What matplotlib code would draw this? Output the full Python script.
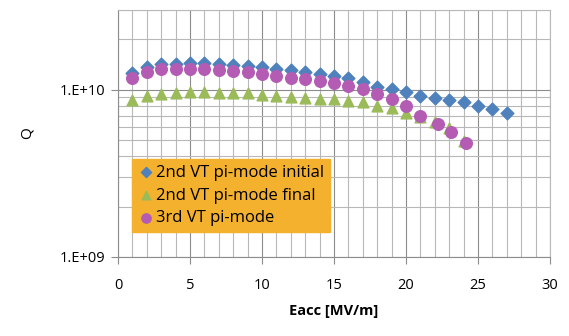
import numpy as np
import matplotlib
matplotlib.use("Agg")
import matplotlib.pyplot as plt
from matplotlib.ticker import LogLocator, MultipleLocator, NullFormatter

plt.rcParams['font.family'] = ['Open Sans', 'DejaVu Sans']

# 2nd VT pi-mode initial
eacc_init = [1, 2, 3, 4, 5, 6, 7, 8, 9, 10, 11, 12, 13, 14, 15, 16, 17, 18, 19, 20,
             21, 22, 23, 24, 25, 26, 27]
q_init = [1.26e10, 1.37e10, 1.43e10, 1.43e10, 1.45e10, 1.45e10, 1.43e10, 1.41e10, 1.39e10,
          1.37e10, 1.34e10, 1.32e10, 1.28e10, 1.25e10, 1.21e10, 1.18e10, 1.12e10, 1.04e10,
          1.01e10, 9.7e9, 9.2e9, 8.95e9, 8.7e9, 8.4e9, 8.0e9, 7.7e9, 7.3e9]

# 2nd VT pi-mode final
eacc_final = [1, 2, 3, 4, 5, 6, 7, 8, 9, 10, 11, 12, 13, 14, 15, 16, 17, 18, 19, 20,
              21, 22, 23, 24]
q_final = [8.7e9, 9.2e9, 9.45e9, 9.6e9, 9.7e9, 9.7e9, 9.6e9, 9.6e9, 9.6e9, 9.3e9, 9.2e9,
           9.1e9, 8.95e9, 8.8e9, 8.8e9, 8.6e9, 8.4e9, 8.0e9, 7.8e9, 7.3e9, 6.9e9, 6.4e9,
           5.9e9, 4.95e9]

# 3rd VT pi-mode
eacc_3rd = [1, 2, 3, 4, 5, 6, 7, 8, 9, 10, 11, 12, 13, 14, 15, 16, 17, 18, 19, 20,
            21, 22.2, 23.1, 24.2]
q_3rd = [1.18e10, 1.28e10, 1.34e10, 1.34e10, 1.34e10, 1.34e10, 1.32e10, 1.30e10, 1.28e10,
         1.25e10, 1.21e10, 1.18e10, 1.16e10, 1.13e10, 1.10e10, 1.06e10, 1.01e10, 9.45e9,
         8.8e9, 8.0e9, 7.0e9, 6.2e9, 5.6e9, 4.8e9]

fig = plt.figure(figsize=(5.69, 3.36), dpi=100)
ax = fig.add_axes([118 / 569, 1 - 257 / 336, (550 - 118) / 569, (257 - 10) / 336])

ax.set_yscale('log')
ax.set_xlim(0, 30)
ax.set_ylim(1e9, 3e10)

ax.xaxis.set_major_locator(MultipleLocator(5))
ax.xaxis.set_minor_locator(MultipleLocator(1))
ax.yaxis.set_major_locator(LogLocator(base=10, numticks=5))
ax.yaxis.set_minor_locator(LogLocator(base=10, subs=np.arange(2, 10), numticks=20))
ax.yaxis.set_major_formatter(plt.FuncFormatter(lambda v, p: "1.E+%02d" % round(np.log10(v))))
ax.yaxis.set_minor_formatter(NullFormatter())

ax.grid(True, which='major', color='#8c8c8c', lw=0.8)
ax.grid(True, which='minor', color='#b8b8b8', lw=0.8)
ax.set_axisbelow(True)

for side in ['top', 'right']:
    ax.spines[side].set_color('#b8b8b8')
for side in ['left', 'bottom']:
    ax.spines[side].set_color('#8c8c8c')

ax.tick_params(which='major', length=5, color='#8c8c8c', labelsize=10.5, pad=10)
ax.tick_params(which='minor', length=0)
ax.tick_params(axis='y', pad=4)

ax.scatter(eacc_init, q_init, marker='D', s=42, color='#4F81BD', label='2nd VT pi-mode initial', zorder=3)
ax.scatter(eacc_final, q_final, marker='^', s=60, color='#9BBB59', label='2nd VT pi-mode final', zorder=3)
ax.scatter(eacc_3rd, q_3rd, marker='o', s=70, color='#B45CB4', label='3rd VT pi-mode', zorder=4)

ax.set_xlabel('Eacc [MV/m]', fontweight='bold', fontsize=10.5, labelpad=8)
ax.set_ylabel('Q', fontsize=11, labelpad=18)

leg = ax.legend(loc='upper left', bbox_to_anchor=((132 - 118) / 432, 1 - (159 - 10) / 247),
                frameon=True, fancybox=False, fontsize=12, handletextpad=0.1,
                borderpad=0.35, labelspacing=0.4, handlelength=1.0, borderaxespad=0,
                markerscale=0.8)
leg.get_frame().set_facecolor('#F4B12E')
leg.get_frame().set_edgecolor('#F4B12E')
leg.get_frame().set_alpha(1)

fig.savefig('out.png', dpi=100)
